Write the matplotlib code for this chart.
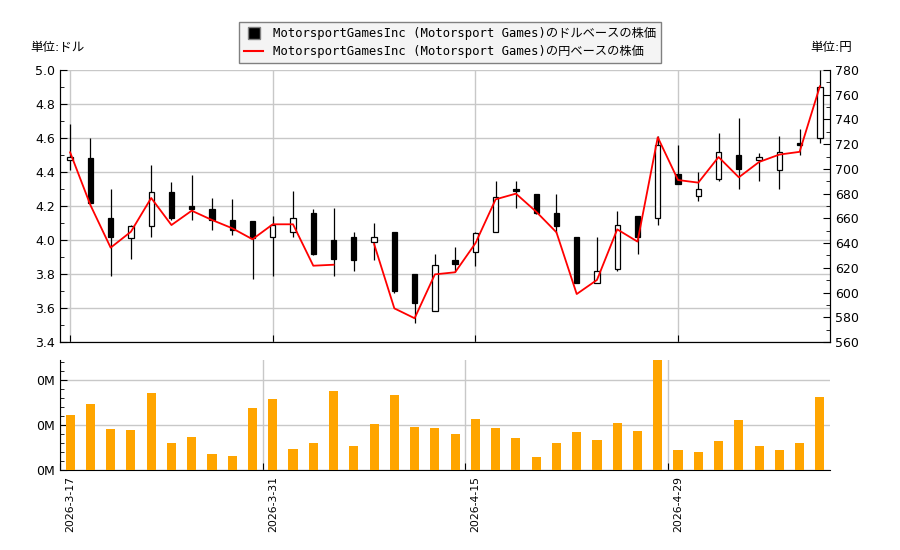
import numpy as np
import matplotlib
matplotlib.use("Agg")
import matplotlib.pyplot as plt
from matplotlib.lines import Line2D
from matplotlib.ticker import MultipleLocator, FuncFormatter

plt.rcParams['font.family'] = ['DejaVu Sans', 'Noto Sans CJK JP']

# trading days (Good Friday 4-3 closed)
dates = ["2026-3-17", "2026-3-18", "2026-3-19", "2026-3-20", "2026-3-23", "2026-3-24",
         "2026-3-25", "2026-3-26", "2026-3-27", "2026-3-30", "2026-3-31", "2026-4-1",
         "2026-4-2", "2026-4-6", "2026-4-7", "2026-4-8", "2026-4-9", "2026-4-10",
         "2026-4-13", "2026-4-14", "2026-4-15", "2026-4-16", "2026-4-17", "2026-4-20",
         "2026-4-21", "2026-4-22", "2026-4-23", "2026-4-24", "2026-4-27", "2026-4-28",
         "2026-4-29", "2026-4-30", "2026-5-1", "2026-5-4", "2026-5-5", "2026-5-6",
         "2026-5-7", "2026-5-8"]

open_usd = [4.47, 4.48, 4.13, 4.01, 4.08, 4.28, 4.20, 4.18, 4.12, 4.11,
            4.02, 4.05, 4.16, 4.00, 4.02, 3.99, 4.05, 3.80, 3.58, 3.88,
            3.93, 4.05, 4.30, 4.27, 4.16, 4.02, 3.75, 3.83, 4.14, 4.13,
            4.39, 4.26, 4.36, 4.50, 4.47, 4.41, 4.57, 4.60]
high_usd = [4.68, 4.60, 4.30, 4.09, 4.44, 4.34, 4.38, 4.25, 4.24, 4.11,
            4.14, 4.29, 4.18, 4.19, 4.05, 4.10, 4.05, 3.80, 3.92, 3.96,
            4.05, 4.35, 4.35, 4.27, 4.27, 4.02, 4.02, 4.17, 4.14, 4.61,
            4.56, 4.40, 4.63, 4.72, 4.51, 4.61, 4.65, 5.00]
low_usd = [4.41, 4.21, 3.79, 3.89, 4.02, 4.12, 4.12, 4.06, 4.03, 3.77,
           3.79, 4.02, 3.91, 3.79, 3.82, 3.88, 3.69, 3.51, 3.58, 3.81,
           3.85, 4.05, 4.19, 4.15, 4.04, 3.75, 3.75, 3.82, 3.92, 4.09,
           4.33, 4.23, 4.35, 4.30, 4.35, 4.30, 4.50, 4.57]
close_usd = [4.49, 4.22, 4.02, 4.08, 4.28, 4.13, 4.18, 4.12, 4.06, 4.01,
             4.09, 4.13, 3.92, 3.89, 3.88, 4.02, 3.70, 3.63, 3.85, 3.86,
             4.04, 4.25, 4.29, 4.16, 4.08, 3.75, 3.82, 4.09, 4.02, 4.56,
             4.33, 4.30, 4.52, 4.42, 4.49, 4.52, 4.56, 4.90]
close_jpy = [713.4, 670.8, 636.3, 649.2, 676.5, 654.6, 666.2, 658.7, 652.0, 643.1,
             655.2, 655.2, 621.7, 622.5, np.nan, 639.3, 587.2, 579.2, 614.7, 616.4,
             639.8, 675.4, 680.0, 665.4, 648.7, 598.8, 610.2, 651.1, 641.2, 725.6,
             691.0, 688.9, 709.6, 693.2, 705.6, 711.6, 713.8, 766.8]
volume = [122000, 147000, 90000, 88000, 171000, 59000, 74000, 36000, 32000, 138000,
          158000, 47000, 61000, 176000, 54000, 102000, 167000, 95000, 94000, 80000,
          113000, 93000, 71000, 29000, 60000, 84000, 67000, 104000, 87000, 244000,
          44000, 40000, 64000, 111000, 53000, 44000, 60000, 162000]

label_idx = [0, 10, 20, 30]
legend_usd = "MotorsportGamesInc (Motorsport Games)のドルベースの株価"
legend_jpy = "MotorsportGamesInc (Motorsport Games)の円ベースの株価"

grid_c = "#c8c8c8"
x = np.arange(len(dates))

fig = plt.figure(figsize=(9, 5.5), dpi=100)
ax = fig.add_axes([60/900, 1-342/550, 770/900, 272/550])
ax2 = ax.twinx()
axv = fig.add_axes([60/900, 1-470/550, 770/900, 110/550])

# candlesticks
w = 0.26
for i in x:
    o, h, l, c = open_usd[i], high_usd[i], low_usd[i], close_usd[i]
    ax.vlines(i, l, h, color="black", lw=0.9, zorder=3)
    up = c >= o
    ax.bar(i, abs(c - o), w, bottom=min(o, c), color="white" if up else "black",
           edgecolor="black", lw=0.9, zorder=4)

ax2.plot(x, close_jpy, color="red", lw=1.3, zorder=5)

ax.set_xlim(-0.5, len(dates) - 0.5)
ax.set_ylim(3.4, 5.0)
ax2.set_ylim(560, 780)
ax.yaxis.set_major_locator(MultipleLocator(0.2))
ax.yaxis.set_minor_locator(MultipleLocator(0.1))
ax.yaxis.set_major_formatter(FuncFormatter(lambda v, p: f"{v:.1f}"))
ax2.yaxis.set_major_locator(MultipleLocator(20))
ax2.yaxis.set_minor_locator(MultipleLocator(10))
ax.set_xticks(label_idx)
ax.set_xticklabels([])
ax.grid(True, color=grid_c, lw=1)
ax.set_axisbelow(True)
ax.spines["top"].set_visible(False)
ax2.spines["top"].set_visible(False)
for a in (ax, ax2):
    a.tick_params(which="both", direction="in", labelsize=9)
    a.tick_params(which="major", length=5)
    a.tick_params(which="minor", length=3)
ax.tick_params(axis="x", length=5)

# volume
axv.bar(x, volume, 0.45, color="#ffa500", zorder=3)
axv.set_xlim(-0.5, len(dates) - 0.5)
axv.set_ylim(0, max(volume))
axv.yaxis.set_major_locator(MultipleLocator(100000))
axv.yaxis.set_minor_locator(MultipleLocator(20000))
axv.yaxis.set_major_formatter(FuncFormatter(lambda v, p: f"{int(v / 1e6)}M"))
# grid/ticks sit half a day left of the labels
axv.set_xticks([i - 0.5 for i in label_idx])
axv.set_xticklabels([])
axv.set_xticks(label_idx, minor=True)
axv.set_xticklabels([dates[i] for i in label_idx], minor=True, rotation=90, fontsize=7.8)
axv.tick_params(axis="x", which="minor", length=0, pad=4)
axv.grid(True, which="major", color=grid_c, lw=1)
axv.set_axisbelow(True)
axv.spines["top"].set_visible(False)
axv.spines["right"].set_visible(False)
axv.tick_params(axis="y", which="both", direction="in", labelsize=9)
axv.tick_params(axis="y", which="major", length=5)
axv.tick_params(axis="y", which="minor", length=3)
axv.tick_params(axis="x", which="major", direction="in", length=5)

fig.text(30/900, 1-47/550, "単位:ドル", fontsize=9, va="center", ha="left")
fig.text(852/900, 1-47/550, "単位:円", fontsize=9, va="center", ha="right")

handles = [Line2D([], [], ls="none", marker="s", markersize=8, markerfacecolor="black",
                  markeredgecolor="#808080"),
           Line2D([], [], color="red", lw=1.5)]
leg = fig.legend(handles, [legend_usd, legend_jpy], loc="upper center",
                 bbox_to_anchor=(0.5, 1-16/550), fancybox=False, framealpha=1,
                 edgecolor="#808080", facecolor="#f4f4f4", borderpad=0.4,
                 handlelength=1.6, labelspacing=0.4,
                 prop={"family": ["DejaVu Sans Mono", "Noto Sans CJK JP"], "size": 8.8})
leg.get_frame().set_linewidth(1)

fig.savefig("out.png", dpi=100)
